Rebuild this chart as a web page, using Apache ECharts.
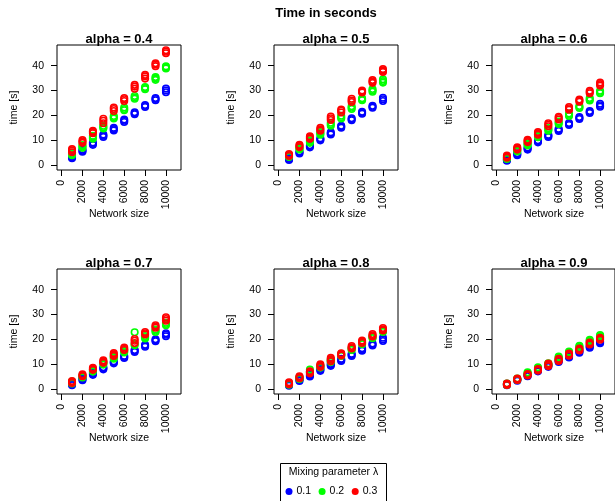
<!DOCTYPE html>
<html>
<head>
<meta charset="utf-8">
<script src="https://cdn.jsdelivr.net/npm/echarts@6/dist/echarts.min.js"></script>
<style>html,body{margin:0;padding:0;background:#fff;}#c{width:615px;height:501px;}</style>
</head>
<body>
<div id="c"></div>
<script>
// ---- data ----
const sizes = [1000, 2000, 3000, 4000, 5000, 6000, 7000, 8000, 9000, 10000];
const alphas = ['0.4', '0.5', '0.6', '0.7', '0.8', '0.9'];
const lambdas = ['0.1', '0.2', '0.3'];
const lambdaColors = ['#0000ff', '#00ff00', '#ff0000'];
const xTicks = [0, 2000, 4000, 6000, 8000, 10000];
const yTicks = [0, 10, 20, 30, 40];

// replicate times [s] per network size
const a04_l01 = [[2.8,3.2,3.6],[5.4,5.8,6.3],[8.2,8.6,9.1],[11.4,11.9,12.3],[14.0,14.5,15.0],[17.4,17.9,18.4],[20.5,20.9,21.3],[23.4,23.8,24.2],[26.1,26.6,27.0],[29.3,30.0,30.8]];
const a04_l02 = [[4.0,4.5,5.0],[7.0,7.5,8.1],[10.7,11.2,11.8],[14.8,15.3,15.9],[18.8,19.3,19.8],[22.1,22.6,23.2],[26.7,27.2,27.8],[30.5,31.0,31.4],[34.3,34.9,35.4],[38.9,39.3,39.7]];
const a04_l03 = [[5.2,5.9,6.5],[9.0,9.5,10.1],[12.9,13.4,13.8],[16.9,17.9,18.7],[21.8,22.6,23.2],[25.8,26.5,27.0],[30.7,31.6,32.3],[34.8,35.7,36.3],[39.8,40.5,41.0],[45.0,45.6,46.2]];

const a05_l01 = [[2.1,2.5,2.9],[4.7,5.1,5.5],[7.2,7.6,8.0],[10.0,10.4,10.8],[12.4,12.8,13.2],[15.1,15.5,15.9],[18.1,18.5,18.9],[20.7,21.1,21.5],[23.1,23.5,23.9],[25.8,26.5,27.1]];
const a05_l02 = [[3.3,3.7,4.1],[6.3,6.7,7.1],[9.0,9.5,10.0],[12.3,12.8,13.3],[15.9,16.5,17.1],[18.8,19.3,19.9],[22.6,23.1,23.7],[26.1,26.5,26.9],[29.5,30.0,30.6],[33.2,33.8,34.5]];
const a05_l03 = [[3.7,4.1,4.5],[7.3,7.8,8.2],[10.6,11.1,11.6],[13.9,14.4,15.0],[18.2,18.9,19.6],[21.2,21.9,22.4],[25.4,26.0,26.7],[29.2,29.6,30.0],[33.1,33.6,34.2],[37.5,38.0,38.6]];

const a06_l01 = [[1.8,2.1,2.4],[4.0,4.4,4.8],[6.3,6.7,7.1],[9.2,9.6,10.0],[11.4,11.8,12.2],[13.8,14.2,14.6],[16.2,16.6,17.0],[18.6,19.0,19.4],[21.0,21.4,21.8],[23.5,24.1,24.7]];
const a06_l02 = [[2.5,2.8,3.2],[5.5,5.9,6.3],[8.0,8.4,8.8],[11.3,11.8,12.3],[13.9,14.4,14.9],[16.6,17.1,17.6],[19.8,20.3,20.8],[23.0,23.4,23.8],[26.0,26.5,27.0],[28.9,29.4,29.9]];
const a06_l03 = [[3.0,3.5,3.9],[6.3,6.8,7.2],[9.3,9.8,10.2],[12.3,12.8,13.3],[15.7,16.3,16.9],[18.4,19.0,19.5],[22.3,22.9,23.4],[25.5,26.0,26.4],[28.9,29.4,29.9],[32.0,32.6,33.2]];

const a07_l01 = [[1.6,2.0,2.4],[3.6,4.0,4.4],[5.8,6.2,6.6],[8.0,8.4,8.8],[10.4,10.8,11.2],[12.6,13.0,13.4],[15.0,15.4,15.8],[17.1,17.5,17.9],[19.3,19.7,20.1],[21.3,21.9,22.5]];
const a07_l02 = [[2.3,2.7,3.1],[4.7,5.1,5.5],[7.1,7.5,7.9],[9.9,10.4,10.9],[12.3,12.8,13.3],[14.8,15.3,15.8],[17.7,18.2,22.9],[20.4,20.9,21.4],[23.0,23.5,24.0],[25.7,26.2,26.7]];
const a07_l03 = [[2.5,2.9,3.3],[5.2,5.6,6.0],[7.8,8.2,8.6],[10.6,11.1,11.6],[13.4,14.0,14.5],[15.8,16.3,16.8],[18.6,19.5,20.2],[22.0,22.5,23.0],[24.7,25.2,25.7],[27.5,28.2,28.9]];

const a08_l01 = [[1.4,1.7,2.0],[3.3,3.7,4.1],[5.1,5.5,5.9],[7.4,7.8,8.2],[9.4,9.8,10.2],[11.4,11.8,12.2],[13.4,13.8,14.2],[15.5,16.0,16.5],[17.6,18.0,18.4],[19.4,20.0,20.7]];
const a08_l02 = [[1.8,2.1,2.4],[4.1,4.5,4.9],[6.7,7.1,7.9],[8.7,9.1,9.5],[11.0,11.5,12.0],[13.4,13.8,14.2],[15.8,16.2,16.6],[18.1,18.5,18.9],[20.5,20.9,21.3],[23.0,23.4,23.8]];
const a08_l03 = [[2.0,2.4,2.8],[4.4,4.8,5.2],[6.4,6.8,7.2],[9.0,9.5,10.0],[11.3,12.0,12.6],[13.6,14.0,14.4],[16.4,16.9,17.4],[18.6,19.1,19.6],[21.2,21.7,22.2],[23.6,24.1,24.6]];

const a09_l01 = [[1.6,1.9,2.2],[3.4,3.7,4.0],[5.2,5.5,5.8],[7.2,7.5,7.8],[9.0,9.4,9.8],[11.0,11.4,11.8],[12.8,13.1,13.4],[14.7,15.1,15.5],[16.7,17.1,17.5],[18.5,18.9,19.3]];
const a09_l02 = [[1.7,2.0,2.3],[3.7,4.0,4.3],[6.0,6.4,6.8],[8.0,8.4,8.8],[9.6,10.0,10.4],[12.3,12.7,13.1],[14.3,14.7,15.1],[16.7,17.1,17.5],[19.1,19.5,19.9],[21.0,21.4,21.8]];
const a09_l03 = [[1.7,2.0,2.3],[3.7,4.0,4.3],[5.5,5.8,6.1],[7.5,7.8,8.1],[9.3,9.8,10.3],[11.4,11.8,12.2],[13.5,13.9,14.3],[15.6,16.0,16.4],[18.0,18.4,18.8],[19.9,20.3,20.7]];

const panelData = [
  [a04_l01, a04_l02, a04_l03],
  [a05_l01, a05_l02, a05_l03],
  [a06_l01, a06_l02, a06_l03],
  [a07_l01, a07_l02, a07_l03],
  [a08_l01, a08_l02, a08_l03],
  [a09_l01, a09_l02, a09_l03]
];

// ---- layout ----
const FONT = '"Liberation Sans", Arial, Helvetica, sans-serif';
const colLeft = [57, 274, 492];
const rowTop = [45, 269];
const boxW = 124, boxH = 125;

const grids = [], xAxes = [], yAxes = [], series = [], graphics = [];

graphics.push({type:'text', x:326, y:13, style:{text:'Time in seconds', font:'bold 13px ' + FONT, fill:'#000', textAlign:'center', textVerticalAlign:'middle'}});

alphas.forEach((a, i) => {
  const c = i % 3, r = Math.floor(i / 3);
  const L = colLeft[c], T = rowTop[r];
  grids.push({left:L, top:T, width:boxW, height:boxH, show:true, borderColor:'#000', borderWidth:1, backgroundColor:'transparent', containLabel:false});
  xAxes.push({
    type:'value', gridIndex:i, min:-440, max:11440,
    axisLine:{show:false, onZero:false}, splitLine:{show:false},
    axisTick:{show:true, length:6, customValues:xTicks, lineStyle:{color:'#000', width:1}},
    axisLabel:{customValues:xTicks, rotate:90, margin:10, fontSize:10.5, fontFamily:FONT, color:'#000', formatter:v => String(v)}
  });
  yAxes.push({
    type:'value', gridIndex:i, min:-1.9, max:48.3,
    axisLine:{show:false, onZero:false}, splitLine:{show:false},
    axisTick:{show:true, length:6, customValues:yTicks, lineStyle:{color:'#000', width:1}},
    axisLabel:{customValues:yTicks, margin:13, fontSize:10.5, fontFamily:FONT, color:'#000', formatter:v => String(v)}
  });
  panelData[i].forEach((groups, k) => {
    const pts = [];
    groups.forEach((reps, g) => reps.forEach(v => pts.push([sizes[g], v])));
    series.push({
      type:'scatter', name:lambdas[k], xAxisIndex:i, yAxisIndex:i, data:pts,
      symbol:'circle', symbolSize:6.5, silent:true,
      itemStyle:{color:'rgba(0,0,0,0)', borderColor:lambdaColors[k], borderWidth:1.6, opacity:1}
    });
  });
  const cx = L + boxW / 2, cy = T + boxH / 2;
  graphics.push({type:'text', x:cx, y:T - 5.5, style:{text:'alpha = ' + a, font:'bold 13px ' + FONT, fill:'#000', textAlign:'center', textVerticalAlign:'middle'}});
  graphics.push({type:'text', x:cx, y:T + boxH + 44, style:{text:'Network size', font:'10.5px ' + FONT, fill:'#000', textAlign:'center', textVerticalAlign:'middle'}});
  graphics.push({type:'text', x:L - 43, y:cy, rotation:Math.PI / 2, style:{text:'time [s]', font:'10.5px ' + FONT, fill:'#000', textAlign:'center', textVerticalAlign:'middle'}});
});

// legend box + title
graphics.push({type:'rect', shape:{x:280.5, y:463.5, width:106, height:45}, style:{fill:'none', stroke:'#000', lineWidth:1}});
graphics.push({type:'text', x:333.5, y:472, style:{text:'Mixing parameter λ', font:'10.5px ' + FONT, fill:'#000', textAlign:'center', textVerticalAlign:'middle'}});

const chart = echarts.init(document.getElementById('c'), null, {renderer:'canvas'});
chart.setOption({
  animation:false,
  backgroundColor:'#fff',
  grid:grids, xAxis:xAxes, yAxis:yAxes, series:series,
  legend:{
    left:285.5, top:486, orient:'horizontal', itemWidth:7, itemHeight:7, itemGap:7.5, padding:0,
    selectedMode:false,
    textStyle:{fontSize:10.5, fontFamily:FONT, color:'#000', padding:[0,0,0,-1]},
    data:lambdas.map((l, k) => ({name:l, icon:'circle', itemStyle:{color:lambdaColors[k], borderWidth:0}}))
  },
  graphic:graphics
});
</script>
</body>
</html>
